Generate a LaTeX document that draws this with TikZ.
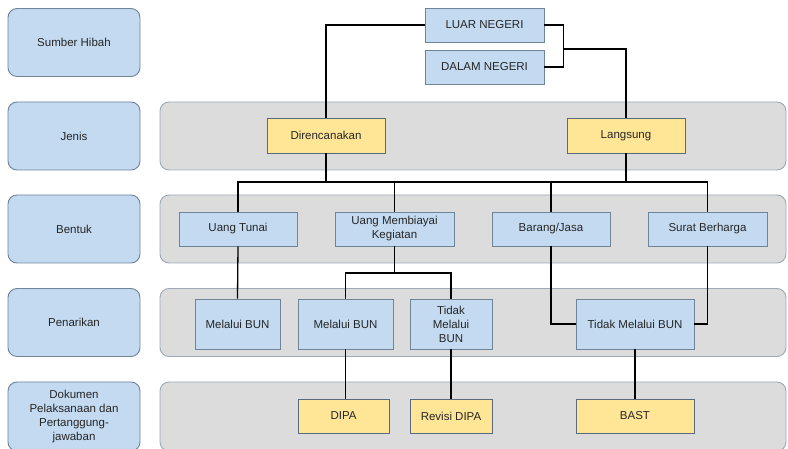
\documentclass[tikz,border=0pt]{standalone}
\usepackage{fontspec}
\setmainfont{Liberation Sans}
\definecolor{bluefill}{HTML}{C3DAF0}
\definecolor{blueline}{HTML}{6F8499}
\definecolor{yelfill}{HTML}{FFE596}
\definecolor{grayfill}{HTML}{DCDCDC}
\definecolor{grayline}{HTML}{9FA8B4}
\definecolor{txt}{HTML}{262626}
\begin{document}
\begin{tikzpicture}[x=1pt,y=-1pt,
  font=\fontsize{11.5}{14}\selectfont, text=txt,
  lab/.style={draw=blueline, fill=bluefill, rounded corners=9pt, line width=0.9pt, minimum width=132pt, minimum height=68pt, align=center, inner sep=2pt},
  band/.style={draw=grayline, fill=grayfill, rounded corners=9pt, line width=0.9pt, minimum width=626pt, minimum height=68pt, inner sep=0pt},
  bbox/.style={draw=blueline, fill=bluefill, line width=0.8pt, minimum height=34pt, align=center, inner sep=1pt},
  ybox/.style={draw=blueline!80!black, fill=yelfill, line width=0.8pt, minimum height=34pt, align=center, inner sep=1pt},
  conn/.style={draw=black, line width=1.3pt}]
\useasboundingbox (0,0) rectangle (788,449);
% left labels
\node[lab] (l1) at (74,42.5) {Sumber Hibah};
\node[lab] (l2) at (74,136) {Jenis};
\node[lab] (l3) at (74,229) {Bentuk};
\node[lab] (l4) at (74,322.5) {Penarikan};
\node[lab, minimum height=69pt] (l5) at (74,416.5) {Dokumen\\Pelaksanaan dan\\Pertanggung-\\jawaban};
% bands
\node[band] (b2) at (473,136) {};
\node[band] (b3) at (473,229) {};
\node[band] (b4) at (473,322.5) {};
\node[band, minimum height=69pt] (b5) at (473,416.5) {};
% top nodes
\node[bbox, minimum width=119pt] (luar) at (484.5,25) {LUAR NEGERI};
\node[bbox, minimum width=119pt] (dalam) at (484.5,67) {DALAM NEGERI};
\node[ybox, minimum width=118pt, minimum height=35pt] (dir) at (326,135.5) {Direncanakan};
\node[ybox, minimum width=118pt, minimum height=35pt] (lang) at (626,135.5) {Langsung};
% bentuk
\node[bbox, minimum width=118pt] (tunai) at (238,229) {Uang Tunai};
\node[bbox, minimum width=119pt] (biaya) at (394.5,229) {Uang Membiayai\\Kegiatan};
\node[bbox, minimum width=118pt] (barang) at (551,229) {Barang/Jasa};
\node[bbox, minimum width=119pt] (surat) at (707.5,229) {Surat Berharga};
% penarikan
\node[bbox, minimum width=85pt, minimum height=50pt] (bun1) at (237.5,324) {Melalui BUN};
\node[bbox, minimum width=95pt, minimum height=50pt] (bun2) at (345.5,324) {Melalui BUN};
\node[bbox, minimum width=82pt, minimum height=50pt] (tbun) at (451,324) {Tidak\\Melalui\\BUN};
\node[bbox, minimum width=118pt, minimum height=50pt] (tbun2) at (635,324) {Tidak Melalui BUN};
% dokumen
\node[ybox, minimum width=91pt] (dipa) at (343.5,416) {DIPA};
\node[ybox, minimum width=82pt] (rdipa) at (451,416) {Revisi DIPA};
\node[ybox, minimum width=118pt] (bast) at (635,416) {BAST};
% connectors
\draw[conn] (luar.west) -| (dir.north);
\draw[conn] (luar.east) -- ++(19,0) coordinate (j1) |- (dalam.east);
\draw[conn] (j1 |- 0,49) -| (lang.north);
\coordinate (hy) at (0,182);
\draw[conn] (dir.south) -- (dir.south |- hy);
\draw[conn] (lang.south) -- (lang.south |- hy);
\draw[conn] (tunai.north) -- (tunai.north |- hy) -- (surat.north |- hy) -- (surat.north);
\draw[conn] (biaya.north) -- (biaya.north |- hy);
\draw[conn] (barang.north) -- (barang.north |- hy);
\draw[conn] (tunai.south) -- (bun1.north);
\coordinate (hy2) at (0,273);
\draw[conn] (biaya.south) -- (biaya.south |- hy2);
\draw[conn] (bun2.north) -- (bun2.north |- hy2) -- (tbun.north |- hy2) -- (tbun.north);
\draw[conn] (barang.south) |- (tbun2.west);
\draw[conn] (surat.south) |- (tbun2.east);
\draw[conn] (bun2.south) -- (bun2.south |- dipa.north);
\draw[conn] (tbun.south) -- (rdipa.north);
\draw[conn] (tbun2.south) -- (bast.north);
\end{tikzpicture}
\end{document}
